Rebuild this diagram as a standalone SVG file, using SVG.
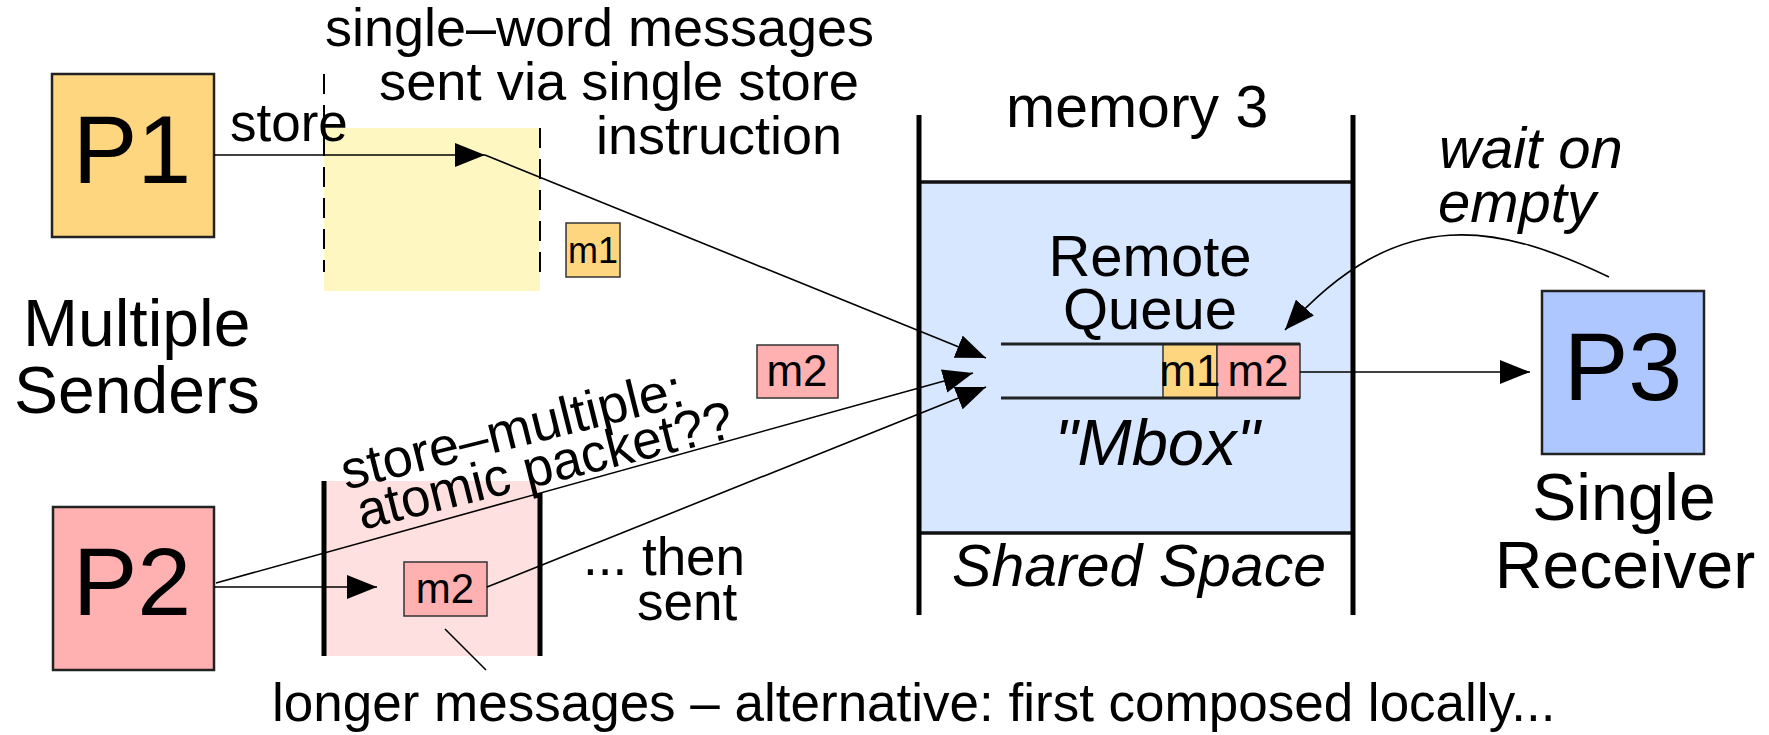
<svg xmlns="http://www.w3.org/2000/svg" width="1769" height="735" viewBox="0 0 1769 735">
  <defs>
    <marker id="arrow" markerUnits="userSpaceOnUse" viewBox="0 0 30 24" refX="30" refY="12" markerWidth="30" markerHeight="24" orient="auto">
      <path d="M0,0 L30,12 L0,24 z" fill="#000"/>
    </marker>
    <style>
      text { font-family: "Liberation Sans", Arial, Helvetica, sans-serif; fill: #000; }
      .t52 { font-size: 53px; }
      .big { font-size: 97px; text-anchor: middle; }
      .lbl { font-size: 66px; }
      .ital { font-style: italic; }
      .box { stroke: #222; stroke-width: 2.5; }
      .msg { stroke: #333; stroke-width: 1.5; }
      .p1 { fill: #ffd680; }
      .p2 { fill: #ffb0b0; }
      .p3 { fill: #afc7ff; }
      .wall { stroke: #000; stroke-width: 5; fill: none; }
      .conn { stroke: #000; stroke-width: 1.6; fill: none; }
      .cell { font-size: 44px; text-anchor: middle; }
    </style>
  </defs>

  <!-- local store area of P1 (single-word path) -->
  <g id="p1-area">
    <rect x="324" y="128" width="216" height="163" fill="#fff7c2"/>
    <line x1="324" y1="74" x2="324" y2="272" stroke="#000" stroke-width="2" stroke-dasharray="20 11"/>
    <line x1="540" y1="128" x2="540" y2="272" stroke="#000" stroke-width="2" stroke-dasharray="20 11"/>
  </g>

  <!-- local buffer of P2 (composed messages) -->
  <g id="p2-area">
    <rect x="324" y="481" width="216" height="175" fill="#ffe0e0"/>
    <line x1="324" y1="481" x2="324" y2="656" class="wall" stroke-width="4.5"/>
    <line x1="540" y1="493" x2="540" y2="656" class="wall" stroke-width="4.5"/>
  </g>

  <!-- memory 3 with the shared space -->
  <g id="memory3">
    <rect x="919" y="182" width="434" height="351" fill="#d6e7ff" stroke="#111" stroke-width="3.5"/>
    <line x1="919" y1="115" x2="919" y2="615" class="wall"/>
    <line x1="1353" y1="115" x2="1353" y2="615" class="wall"/>
    <text x="1006" y="127" style="font-size:59px">memory 3</text>
    <text x="1150" y="276" style="font-size:58px" text-anchor="middle">Remote</text>
    <text x="1150" y="329" style="font-size:58px" text-anchor="middle">Queue</text>
    <text class="ital" x="1157" y="465" style="font-size:65px" text-anchor="middle">"Mbox"</text>
    <text class="ital" x="1139" y="586" style="font-size:59px" text-anchor="middle">Shared Space</text>
  </g>

  <!-- the remote queue itself -->
  <g id="queue">
    <rect x="1163" y="344" width="54" height="54" class="p1" stroke="#333" stroke-width="1.5"/>
    <rect x="1217" y="344" width="83" height="54" class="p2" stroke="#333" stroke-width="1.5"/>
    <line x1="1001" y1="344" x2="1300" y2="344" stroke="#222" stroke-width="3"/>
    <line x1="1001" y1="398" x2="1300" y2="398" stroke="#222" stroke-width="3"/>
    <text class="cell" x="1190" y="386">m1</text>
    <text class="cell" x="1258" y="386">m2</text>
  </g>

  <g id="P1">
    <rect x="52" y="74" width="162" height="163" class="p1 box"/>
    <text class="big" x="132" y="183">P1</text>
  </g>

  <g id="P2">
    <rect x="53" y="507" width="161" height="163" class="p2 box"/>
    <text class="big" x="132" y="615">P2</text>
  </g>

  <g id="P3">
    <rect x="1542" y="291" width="162" height="163" class="p3 box"/>
    <text class="big" x="1623" y="400">P3</text>
  </g>

  <g id="msg-m1">
    <rect x="566" y="223" width="54" height="54" class="p1 msg"/>
    <text x="593" y="263" style="font-size:36px" text-anchor="middle">m1</text>
  </g>

  <g id="msg-m2">
    <rect x="757" y="345" width="81" height="53" class="p2 msg"/>
    <text class="cell" x="797" y="386">m2</text>
  </g>

  <g id="msg-m2-local">
    <rect x="404" y="562" width="83" height="54" class="p2 msg"/>
    <text x="445" y="603" style="font-size:42px" text-anchor="middle">m2</text>
  </g>

  <!-- labels -->
  <g id="labels">
    <text x="325" y="46" style="font-size:54px" textLength="549" lengthAdjust="spacingAndGlyphs">single–word messages</text>
    <text x="379" y="100" style="font-size:54px" textLength="480" lengthAdjust="spacingAndGlyphs">sent via single store</text>
    <text x="596" y="154" style="font-size:54px" textLength="246" lengthAdjust="spacingAndGlyphs">instruction</text>
    <text class="t52" x="230" y="141">store</text>
    <text class="lbl" x="23" y="346">Multiple</text>
    <text class="lbl" x="14" y="413">Senders</text>
    <text class="lbl" x="1624" y="520" text-anchor="middle">Single</text>
    <text class="lbl" x="1625" y="588" text-anchor="middle">Receiver</text>
    <text class="ital" x="1439" y="168" style="font-size:58px">wait on</text>
    <text class="ital" x="1438" y="222" style="font-size:58px">empty</text>
    <text transform="translate(346,490) rotate(-14)" style="font-size:54px">store–multiple:</text>
    <text transform="translate(362,530) rotate(-14)" style="font-size:54px" textLength="386" lengthAdjust="spacingAndGlyphs">atomic packet??</text>
    <text class="t52" x="583" y="575">... then</text>
    <text class="t52" x="637" y="620">sent</text>
    <text class="t52" x="272" y="721">longer messages – alternative: first composed locally...</text>
  </g>

  <!-- connectors -->
  <g id="connectors">
    <line x1="214" y1="155" x2="485" y2="155" class="conn" marker-end="url(#arrow)"/>
    <line x1="485" y1="155" x2="986" y2="358" class="conn" marker-end="url(#arrow)"/>
    <line x1="214" y1="587" x2="377" y2="587" class="conn" marker-end="url(#arrow)"/>
    <line x1="216" y1="583" x2="973" y2="373" class="conn" marker-end="url(#arrow)"/>
    <line x1="487" y1="587" x2="986" y2="387" class="conn" marker-end="url(#arrow)"/>
    <line x1="1300" y1="372" x2="1530" y2="372" class="conn" marker-end="url(#arrow)"/>
    <path d="M1609,277 C1500,225 1400,200 1285,330" class="conn" marker-end="url(#arrow)"/>
    <line x1="445" y1="629" x2="486" y2="670" class="conn"/>
  </g>
</svg>
